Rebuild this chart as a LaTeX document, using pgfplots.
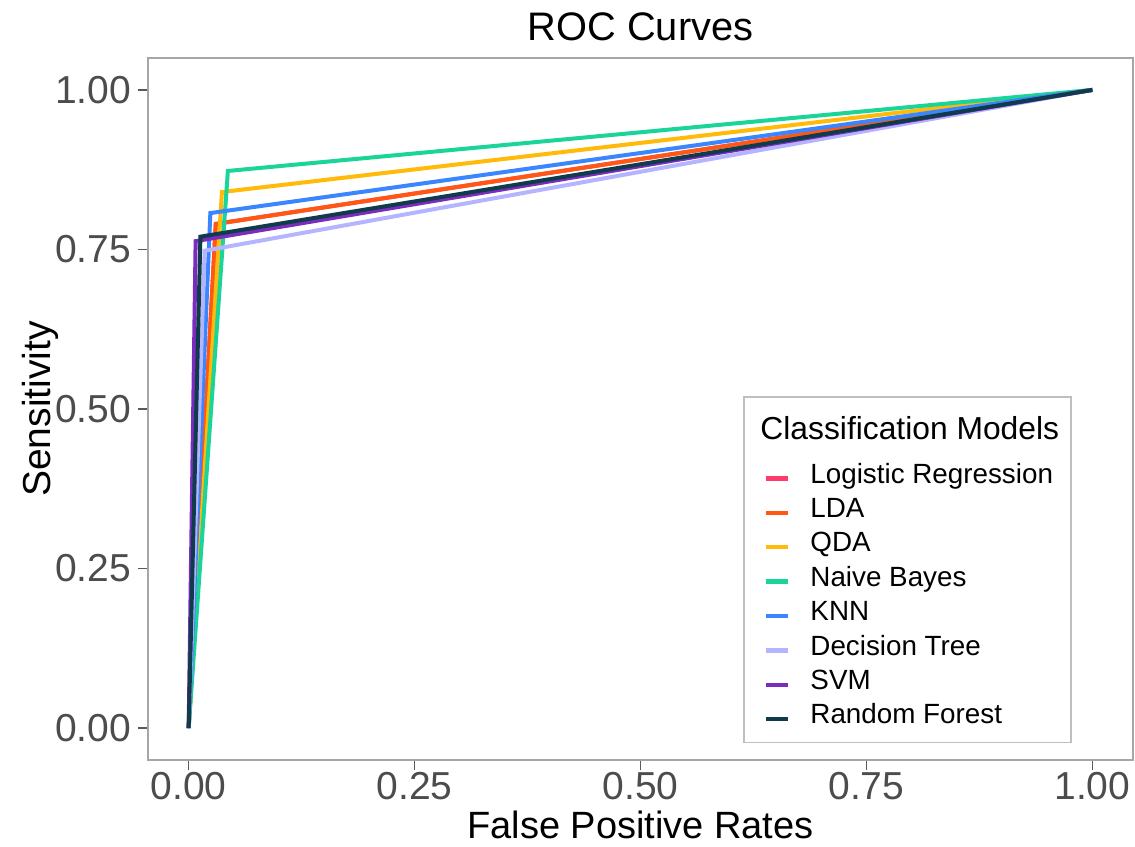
\documentclass[border=0pt]{standalone}
\usepackage{fontspec}
\setmainfont{Liberation Sans}
\usepackage{pgfplots}
\pgfplotsset{compat=1.18}
\definecolor{clr}{HTML}{FF3B6B}
\definecolor{clda}{HTML}{FF5714}
\definecolor{cqda}{HTML}{FFBA0A}
\definecolor{cnb}{HTML}{1BD49A}
\definecolor{cknn}{HTML}{3A86FF}
\definecolor{cdt}{HTML}{B5B5FF}
\definecolor{csvm}{HTML}{7B2CBF}
\definecolor{crf}{HTML}{0F3B4B}
\begin{document}
\begin{tikzpicture}
\begin{axis}[name=ax, scale only axis, width=492.5pt, height=351pt,
  xmin=-0.045, xmax=1.045, ymin=-0.05, ymax=1.05,
  xtick={0,0.25,0.5,0.75,1}, ytick={0,0.25,0.5,0.75,1},
  xticklabels={0.00,0.25,0.50,0.75,1.00},
  yticklabels={0.00,0.25,0.50,0.75,1.00},
  tick align=outside, tick pos=left, major tick length=5pt,
  every tick/.style={gray!70!black, line width=0.6pt},
  axis line style={gray!70, line width=0.8pt},
  ticklabel style={font=\fontsize{19.5}{22}\selectfont, text=black!70},
  xticklabel style={yshift=2.5pt},
  title={ROC Curves},
  title style={font=\fontsize{19.9}{22}\selectfont, at={(axis description cs:0.5,1.028)}, anchor=center},
  xlabel={False Positive Rates},
  xlabel style={font=\fontsize{19}{22}\selectfont, at={(axis description cs:0.5,-0.093)}, anchor=center},
  ylabel={Sensitivity},
  ylabel style={font=\fontsize{19.5}{22}\selectfont, at={(axis description cs:-0.1096,0.5)}, anchor=center},
  legend image code/.code={\path (0pt,0pt); \draw[line width=2.2pt] (4pt,0pt) -- (15pt,0pt);},
  legend cell align=left,
  legend style={at={(rel axis cs:0.938,0.024)}, anchor=south east,
    draw=gray!50, line width=0.8pt, inner xsep=6pt, inner ysep=3pt,
    column sep=10pt, row sep=0pt,
    font=\fontsize{13.9}{16}\selectfont,
    nodes={inner sep=0pt, text height=11pt, text depth=6.2pt}},
  every axis plot/.append style={line width=2pt},
]
\addlegendimage{empty legend}
\addlegendentry[text height=18pt, text depth=11pt, font=\fontsize{15.9}{18}\selectfont]{\hspace*{-25pt}Classification Models}
\addplot[clr] coordinates {(0,0) (0.030,0.790) (1,1)};
\addlegendentry{Logistic Regression}
\addplot[clda] coordinates {(0,0) (0.030,0.790) (1,1)};
\addlegendentry{LDA}
\addplot[cqda] coordinates {(0,0) (0.0368,0.840) (1,1)};
\addlegendentry{QDA}
\addplot[cnb] coordinates {(0,0) (0.0434,0.873) (1,1)};
\addlegendentry{Naive Bayes}
\addplot[cknn] coordinates {(0,0) (0.024,0.807) (1,1)};
\addlegendentry{KNN}
\addplot[cdt] coordinates {(0,0) (0.0177,0.748) (1,1)};
\addlegendentry{Decision Tree}
\addplot[csvm] coordinates {(0,0) (0.0077,0.763) (1,1)};
\addlegendentry{SVM}
\addplot[crf] coordinates {(0,0) (0.013,0.770) (1,1)};
\addlegendentry{Random Forest}
\end{axis}
\pgfresetboundingbox
\path[use as bounding box] ([xshift=-74pt,yshift=-43pt]ax.south west) rectangle ([xshift=1pt,yshift=29pt]ax.north east);
\end{tikzpicture}
\end{document}
